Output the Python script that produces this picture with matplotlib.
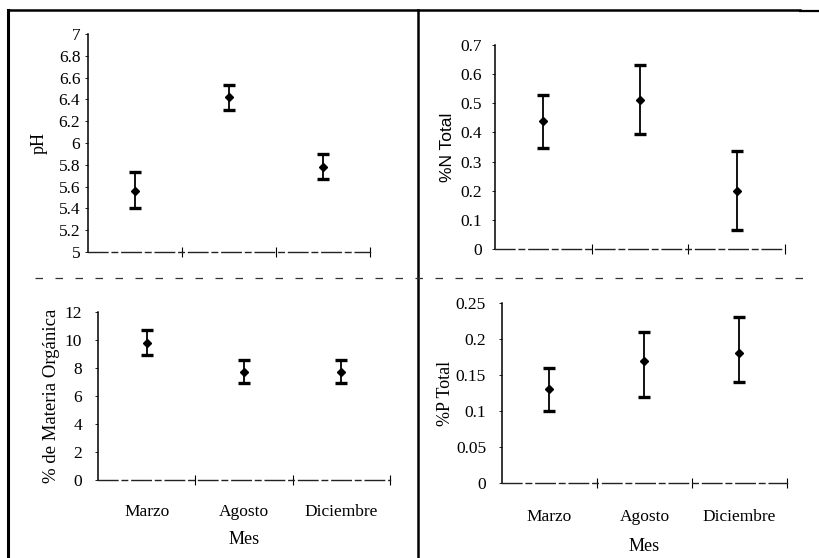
import matplotlib
matplotlib.use("Agg")
import matplotlib.pyplot as plt
import numpy as np
from matplotlib.lines import Line2D

meses = ["Marzo", "Agosto", "Diciembre"]

ph_mean = [5.56, 6.42, 5.78]
ph_low = [5.40, 6.30, 5.67]
ph_high = [5.73, 6.53, 5.90]
ph_ticks = [5, 5.2, 5.4, 5.6, 5.8, 6, 6.2, 6.4, 6.6, 6.8, 7]
ph_ticklabels = ["5", "5.2", "5.4", "5.6", "5.8", "6", "6.2", "6.4", "6.6", "6.8", "7"]

n_mean = [0.44, 0.51, 0.20]
n_low = [0.345, 0.395, 0.065]
n_high = [0.53, 0.63, 0.335]
n_ticks = [0, 0.1, 0.2, 0.3, 0.4, 0.5, 0.6, 0.7]
n_ticklabels = ["0", "0.1", "0.2", "0.3", "0.4", "0.5", "0.6", "0.7"]

mo_mean = [9.8, 7.7, 7.7]
mo_low = [8.9, 6.9, 6.9]
mo_high = [10.7, 8.6, 8.6]
mo_ticks = [0, 2, 4, 6, 8, 10, 12]
mo_ticklabels = ["0", "2", "4", "6", "8", "10", "12"]

p_mean = [0.13, 0.17, 0.18]
p_low = [0.10, 0.12, 0.14]
p_high = [0.16, 0.21, 0.23]
p_ticks = [0, 0.05, 0.1, 0.15, 0.2, 0.25]
p_ticklabels = ["0", "0.05", "0.1", "0.15", "0.2", "0.25"]

W, H = 820, 558
fig = plt.figure(figsize=(W / 100, H / 100), dpi=100)
fig.patch.set_facecolor("white")

SERIF = ["Liberation Serif", "DejaVu Serif"]
SANS = ["Liberation Sans", "DejaVu Sans"]


def px_axes(l, r, t, b):
    return fig.add_axes([l / W, (H - b) / H, (r - l) / W, (b - t) / H])


def panel(ax, mean, low, high, ticks, ticklabels, ylim, ylabel, yfam,
          ylabelpad, ytickpad, show_x, xlabelpad=8, xtickpad=16, ylsize=13):
    x = np.arange(1, len(mean) + 1)
    mean = np.array(mean)
    yerr = np.vstack([mean - np.array(low), np.array(high) - mean])
    ax.errorbar(x, mean, yerr=yerr, fmt="D", color="black", ms=4,
                ecolor="black", elinewidth=1.3, capsize=4.5, capthick=2.4)
    ax.set_xlim(0.5, len(mean) + 0.5)
    ax.set_ylim(*ylim)
    ax.set_yticks(ticks)
    ax.set_yticklabels(ticklabels, family=SERIF, fontsize=12.5)
    ax.tick_params(axis="y", length=2.5, width=0.6, pad=ytickpad)
    for s in ["top", "right"]:
        ax.spines[s].set_visible(False)
    ax.spines["left"].set_linewidth(1.1)
    ax.spines["bottom"].set_linewidth(1.0)
    ax.spines["bottom"].set_linestyle((0, (14, 3, 4, 3)))
    ax.spines["bottom"].set_color("#222222")
    ax.set_xticks([1.5, 2.5, 3.5])
    ax.set_xticklabels([])
    ax.tick_params(axis="x", which="major", direction="inout", length=7, width=0.8)
    if show_x:
        ax.set_xticks(x, minor=True)
        ax.set_xticklabels(meses, minor=True, family=SERIF, fontsize=12.5)
        ax.tick_params(axis="x", which="minor", length=0, pad=xtickpad)
        ax.set_xlabel("Mes", family=SERIF, fontsize=13, labelpad=xlabelpad)
    ax.set_ylabel(ylabel, family=yfam, fontsize=ylsize, labelpad=ylabelpad)


ax1 = px_axes(88, 370, 34, 252)
panel(ax1, ph_mean, ph_low, ph_high, ph_ticks, ph_ticklabels, (5, 7), "pH",
      SERIF, 8, 3, False)

ax2 = px_axes(495, 785, 45, 249)
panel(ax2, n_mean, n_low, n_high, n_ticks, n_ticklabels, (0, 0.7), "%N Total",
      SANS, 4, 7, False, ylsize=12.5)

ax3 = px_axes(98, 390, 312, 480)
panel(ax3, mo_mean, mo_low, mo_high, mo_ticks, mo_ticklabels, (0, 12),
      "% de Materia Orgánica", SERIF, 3, 9, True, xlabelpad=8, xtickpad=17,
      ylsize=13.5)

ax4 = px_axes(502, 787, 303, 483)
panel(ax4, p_mean, p_low, p_high, p_ticks, p_ticklabels, (0, 0.25),
      "%P Total", SERIF, 1.5, 9, True, xlabelpad=9, xtickpad=19)

# frame lines of the scanned figure
def fline(x0, y0, x1, y1, **kw):
    fig.add_artist(Line2D([x0 / W, x1 / W], [(H - y0) / H, (H - y1) / H],
                          transform=fig.transFigure, **kw))

fline(8, 10, 800, 10, color="black", lw=1.8)
fline(800, 11, 820, 11, color="black", lw=1.6)
fline(8, 10, 8, 558, color="black", lw=2.2)
fline(418, 10, 418, 558, color="black", lw=1.8)
fline(35, 278, 810, 278, color="#333333", lw=0.9, ls=(0, (6, 10)))

fig.savefig("out.png", dpi=100, facecolor="white")
